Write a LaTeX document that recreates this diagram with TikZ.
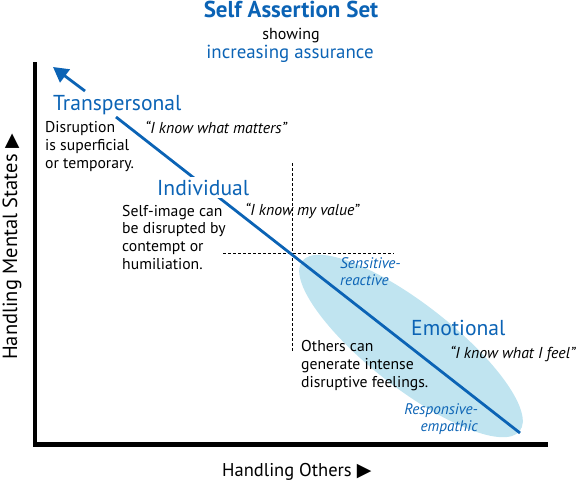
\documentclass[tikz,border=0pt]{standalone}
\usepackage{fontspec}
\setmainfont{PT Sans}
\newfontfamily\symfont{DejaVu Sans}
\usetikzlibrary{arrows.meta}
\definecolor{sblue}{HTML}{0B63B5}
\definecolor{ellfill}{HTML}{C0E4F0}
\tikzset{
  big/.style={text=sblue, font=\fontsize{21.6}{24}\selectfont, inner sep=0pt, anchor=base west},
  body/.style={align=left, font=\fontsize{15.7}{17.6}\selectfont, inner sep=0pt, anchor=base west},
  quote/.style={font=\fontsize{15.8}{18}\selectfont\itshape, inner sep=0pt, anchor=base west},
  bluequote/.style={text=sblue, font=\fontsize{15.3}{16.5}\selectfont\itshape, inner sep=0pt},
  axisline/.style={line width=4.3pt},
  mainline/.style={draw=sblue, line width=2.8pt},
  guide/.style={line width=0.5pt, dash pattern=on 3pt off 2pt}
}
\begin{document}
\begin{tikzpicture}[x=1pt,y=-1pt]
\useasboundingbox (0,0) rectangle (580,482);
% ellipse
\fill[ellfill, rotate around={-38:(411,346)}] (411,346) ellipse [x radius=138, y radius=42];
% dashed guides
\coordinate (vtop) at (292,163);
\coordinate (vbot) at (292,352);
\coordinate (hl) at (223,253);
\coordinate (hr) at (394,253);
\draw[guide] (vtop) -- (vbot);
\draw[guide] (hl) -- (hr);
% axes
\coordinate (ytop) at (34.7,62);
\coordinate (corner) at (34.7,444.5);
\coordinate (xend) at (548,444.5);
\draw[axisline] (ytop) -- (corner) -- (xend);
% main line
\coordinate (ls) at (116,117);
\coordinate (le) at (520,433);
\draw[mainline] (ls) -- (le);
% arrow
\coordinate (atail) at (85,91);
\coordinate (ahead) at (53,67);
\draw[sblue, line width=2.8pt, -{Triangle[length=15pt,width=16pt]}] (atail) -- (ahead);
% titles
\node[text=sblue, font=\fontsize{23}{26}\selectfont\bfseries, inner sep=0pt, anchor=base] (title) at (291,17) {Self Assertion Set};
\node[font=\fontsize{16}{18}\selectfont, inner sep=0pt, anchor=base] (showing) at (291,39) {showing};
\node[text=sblue, font=\fontsize{18.9}{21}\selectfont, inner sep=0pt, anchor=base] (incr) at (290,58) {increasing assurance};
% levels
\node[big] (trans) at (53,110) {Transpersonal};
\node[big, fill=white, inner xsep=2pt, inner ysep=3pt] (indiv) at (155,195) {Individual};
\node[big] (emo) at (411,335) {Emotional};
% body texts (base = baseline of the last line)
\node[body] (dis) at (45,168) {Disruption\\is superficial\\or temporary.};
\node[quote] (q1) at (145,133) {“I know what matters”};
\node[body] (self) at (122,269) {Self-image can\\be disrupted by\\contempt or\\humiliation.};
\node[quote] (q2) at (245,215) {“I know my value”};
\node[body] (oth) at (301,387) {Others can\\generate intense\\disruptive feelings.};
\node[quote] (q3) at (450,358) {“I know what I feel”};
\node[bluequote, anchor=base west, align=left] (sens) at (340,285) {Sensitive-\\reactive};
\node[bluequote, anchor=base east, align=right] (resp) at (478,431) {Responsive-\\empathic};
% axis labels
\node[font=\fontsize{18.5}{20}\selectfont, inner sep=0pt, anchor=base west] (hx) at (222,476) {Handling Others\hspace{5pt}{\symfont\fontsize{19}{20}\selectfont ▶}};
\node[font=\fontsize{20.5}{22}\selectfont, inner sep=0pt, rotate=90, anchor=base west] (hy) at (17,360) {Handling Mental States\hspace{6pt}{\symfont\fontsize{19}{20}\selectfont ▶}};
\end{tikzpicture}
\end{document}
